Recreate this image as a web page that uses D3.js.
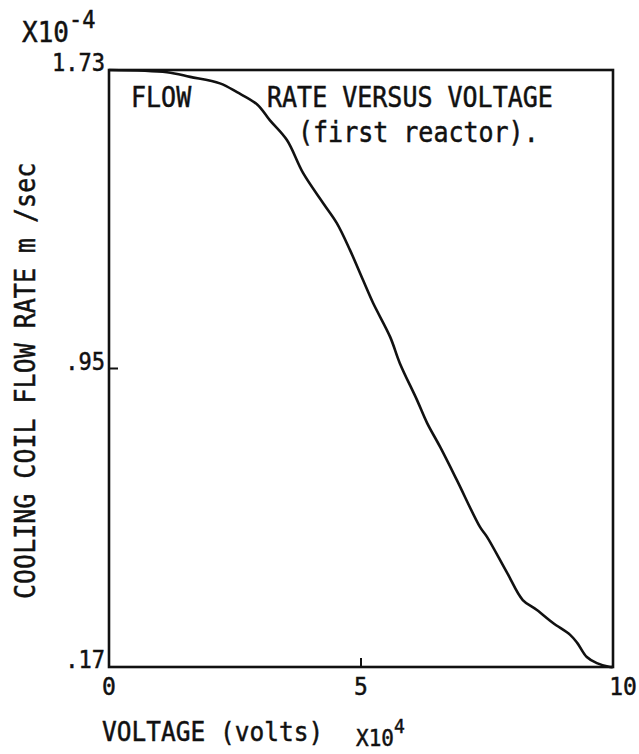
<!DOCTYPE html>
<html><head><meta charset="utf-8">
<script src="https://cdn.jsdelivr.net/npm/d3@7"></script>
<style>
html,body{margin:0;padding:0;background:#fff;}
text{font-family:"DejaVu Sans Mono",monospace;fill:#111;stroke:#111;stroke-width:0.45px;}
</style></head>
<body>
<svg id="c" width="639" height="754"></svg>
<script>
// Voltage (x10^4 volts)
const voltage = [0, 1.15, 1.61, 2.20, 2.54, 2.94, 3.19, 3.53, 3.85, 4.25, 4.52, 4.78, 5.04, 5.24, 5.58, 5.77, 6.11, 6.31, 6.57, 6.90, 7.36, 7.50, 7.90, 8.21, 8.49, 8.81, 9.15, 9.29, 9.48, 9.68, 9.94, 10];
// Cooling coil flow rate (x10^-4 m/sec)
const flowRate = [1.73, 1.724, 1.712, 1.695, 1.672, 1.640, 1.599, 1.547, 1.461, 1.382, 1.330, 1.260, 1.181, 1.121, 1.032, 0.964, 0.868, 0.808, 0.745, 0.659, 0.536, 0.510, 0.416, 0.345, 0.319, 0.285, 0.254, 0.233, 0.196, 0.180, 0.170, 0.170];
const xTicks = [0, 5, 10];
const xTickLabels = ["0", "5", "10"];
const yTicks = [0.17, 0.95, 1.73];
const yTickLabels = [".17", ".95", "1.73"];

const svg = d3.select("#c");
const L = 109, R = 613, T = 70, B = 667;
const x = d3.scaleLinear().domain([0, 10]).range([L, R]);
const y = d3.scaleLinear().domain([0.17, 1.73]).range([B, T]);
const SY = 1.1;

function txt(px, py, str, size, anchor, rot) {
  const g = svg.append("g").attr("transform",
    `translate(${px},${py})` + (rot ? ` rotate(${rot})` : "") + ` scale(1,${SY})`);
  return g.append("text").attr("font-size", size).attr("text-anchor", anchor || "start").text(str);
}

// frame
svg.append("rect").attr("x", L).attr("y", T).attr("width", R - L).attr("height", B - T)
  .attr("fill", "none").attr("stroke", "#111").attr("stroke-width", 2.6);

// inner ticks (mid ones)
svg.append("line").attr("x1", x(5)).attr("x2", x(5)).attr("y1", B).attr("y2", B - 9)
  .attr("stroke", "#111").attr("stroke-width", 2);
svg.append("line").attr("x1", L).attr("x2", L + 9).attr("y1", y(0.95)).attr("y2", y(0.95))
  .attr("stroke", "#111").attr("stroke-width", 2);

// x tick labels
xTicks.forEach((d, i) => txt(x(d) + (i === 2 ? 10 : 0), B + 28, xTickLabels[i], 23, "middle"));

// y tick labels
yTicks.forEach((d, i) => txt(L - 4, y(d) + 1, yTickLabels[i], 22, "end"));

// exponent labels
const e1 = txt(22, 42, "", 26, "start");
e1.append("tspan").text("X10");
e1.append("tspan").attr("font-size", 22).attr("dy", -13).text("-4");

const e2 = txt(356, 746, "", 21, "start");
e2.append("tspan").text("X10");
e2.append("tspan").attr("font-size", 18).attr("dy", -12).text("4");

// axis titles
txt(102, 741, "VOLTAGE (volts)", 24.5, "start");
txt(35, 599, "COOLING COIL FLOW RATE m /sec", 25, "start", -90);

// in-plot titles
txt(131, 107, "FLOW", 25, "start");
txt(267, 107, "RATE VERSUS VOLTAGE", 25, "start");
txt(298, 142, "(first reactor).", 25, "start");

// curve
const pts = voltage.map((v, i) => [v, flowRate[i]]);
svg.append("path").datum(pts)
  .attr("fill", "none").attr("stroke", "#111").attr("stroke-width", 2.6)
  .attr("d", d3.line().x(d => x(d[0])).y(d => y(d[1])).curve(d3.curveCatmullRom.alpha(0.5)));
</script>
</body></html>
